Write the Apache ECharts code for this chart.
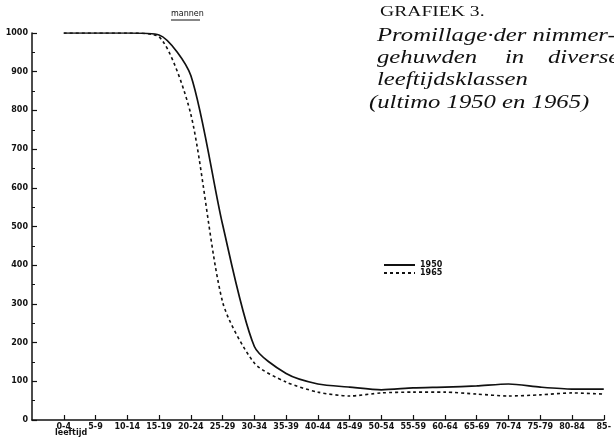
<!DOCTYPE html>
<html>
<head>
<meta charset="utf-8">
<script src="https://cdn.jsdelivr.net/npm/echarts@6/dist/echarts.min.js"></script>
<style>html,body{margin:0;padding:0;background:#fff}#c{width:614px;height:447px}</style>
</head>
<body>
<div id="c"></div>
<script>
var categories = ['', '0-4', '5-9', '10-14', '15-19', '20-24', '25-29', '30-34', '35-39', '40-44', '45-49', '50-54', '55-59', '60-64', '65-69', '70-74', '75-79', '80-84', '85-'];
var values1950 = [null, 1000, 1000, 1000, 995, 890, 505, 190, 120, 93, 85, 78, 83, 85, 88, 93, 85, 80, 80];
var values1965 = [null, 1000, 1000, 1000, 990, 790, 305, 147, 98, 72, 62, 70, 72, 72, 67, 62, 65, 70, 67];
var yTicks = [0, 100, 200, 300, 400, 500, 600, 700, 800, 900, 1000];

var ink = '#111';
var chart = echarts.init(document.getElementById('c'), null, {renderer: 'canvas'});
var serifIt = 'italic 19px "Liberation Serif"';
var sx = 1.3;
function t(x, y, text, font, scale) {
  return {type: 'text', x: x, y: y, scaleX: scale || 1,
          style: {x: 0, y: 0, text: text, font: font, fill: ink, align: 'left', verticalAlign: 'top'}};
}
chart.setOption({
  animation: false,
  backgroundColor: '#fff',
  grid: {left: 32, right: 8, top: 33, bottom: 27},
  xAxis: {
    type: 'category',
    data: categories,
    boundaryGap: false,
    axisLine: {lineStyle: {color: ink, width: 1.5}},
    axisTick: {inside: true, length: 5, lineStyle: {color: ink, width: 1.2}, interval: function (i) { return i > 0; }},
    axisLabel: {interval: 0, margin: 3, color: ink, fontSize: 8, fontWeight: 'bold', fontFamily: 'DejaVu Sans'},
    splitLine: {show: false}
  },
  yAxis: {
    type: 'value',
    min: yTicks[0],
    max: yTicks[yTicks.length - 1],
    interval: 100,
    axisLine: {show: true, lineStyle: {color: ink, width: 1.5}},
    axisTick: {show: true, inside: true, length: 5, lineStyle: {color: ink, width: 1.2}},
    minorTick: {show: true, splitNumber: 2, length: 3, lineStyle: {color: ink, width: 1}},
    axisLabel: {margin: 4, color: ink, fontSize: 8, fontWeight: 'bold', fontFamily: 'DejaVu Sans',
                formatter: function (v) { return String(v); }},
    splitLine: {show: false}
  },
  legend: {
    orient: 'vertical',
    left: 383, top: 261,
    itemWidth: 31, itemHeight: 8, itemGap: 0, padding: 0,
    itemStyle: {opacity: 0},
    textStyle: {color: ink, fontSize: 8, fontWeight: 'bold', fontFamily: 'DejaVu Sans'},
    data: ['1950', '1965']
  },
  series: [
    {name: '1950', type: 'line', data: values1950, smooth: 0.25, symbol: 'none', showSymbol: false,
     lineStyle: {color: ink, width: 1.7}, itemStyle: {color: ink}},
    {name: '1965', type: 'line', data: values1965, smooth: 0.25, symbol: 'none', showSymbol: false,
     lineStyle: {color: ink, width: 1.6, type: [3, 3]}, itemStyle: {color: ink}}
  ],
  graphic: [
    t(171, 10, 'mannen', '8px "DejaVu Sans"'),
    {type: 'line', shape: {x1: 171, y1: 20, x2: 200, y2: 20}, style: {stroke: ink, lineWidth: 1}},
    t(380, 5, 'GRAFIEK 3.', '14px "Liberation Serif"', 1.4),
    t(377, 26, 'Promillage·der nimmer-', serifIt, sx),
    t(377, 48, 'gehuwden', serifIt, sx),
    t(505, 48, 'in', serifIt, sx),
    t(548, 48, 'diverse', serifIt, sx),
    t(377, 70, 'leeftijdsklassen', serifIt, sx),
    t(369, 93, '(ultimo 1950 en 1965)', serifIt, sx),
    t(55, 429, 'leeftijd', 'bold 8px "DejaVu Sans"')
  ]
});
</script>
</body>
</html>
